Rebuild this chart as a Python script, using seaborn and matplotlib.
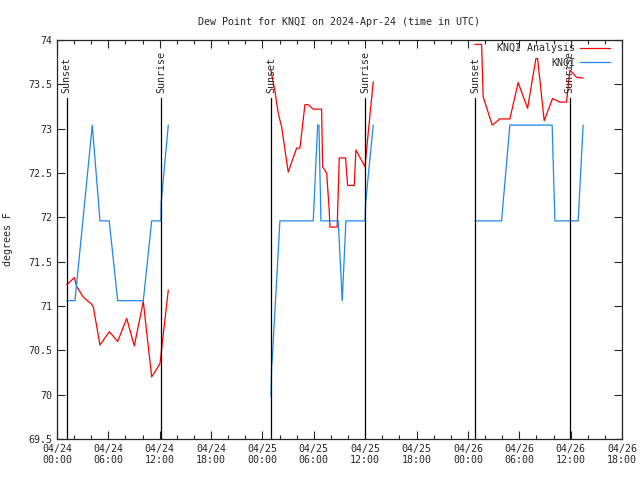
import pandas as pd
import matplotlib
matplotlib.use("Agg")
import matplotlib.pyplot as plt
import seaborn as sns
from matplotlib.ticker import FuncFormatter, MultipleLocator

# hours since 2024-04-24 00:00 UTC
analysis_seg = [0]*15 + [1]*23 + [2]*17
analysis_hr = [1.13, 2.02, 2.3, 3.07, 4.05, 4.24, 5.02, 6.11, 7.09, 8.14, 9.03, 10.08, 11.06, 12.03, 13.0,
               24.99, 25.46, 25.85, 26.24, 27.01, 27.99, 28.38, 28.96, 29.35, 29.93, 30.91, 31.03,
               31.5, 31.8, 31.88, 32.73, 32.97, 33.71, 33.95, 34.72, 34.92, 35.97, 36.94,
               48.8, 49.6, 49.78, 50.84, 51.74, 52.9, 53.87, 54.97, 55.94, 56.14, 56.91, 57.89,
               58.74, 59.52, 59.91, 60.69, 61.46]
analysis_val = [71.24, 71.32, 71.22, 71.10, 71.02, 70.99, 70.56, 70.71, 70.60, 70.86, 70.55, 71.05, 70.20, 70.35, 71.18,
                73.66, 73.42, 73.17, 73.02, 72.51, 72.78, 72.78, 73.27, 73.27, 73.22, 73.22, 72.57,
                72.50, 72.08, 71.89, 71.89, 72.67, 72.67, 72.36, 72.36, 72.76, 72.57, 73.53,
                73.95, 73.95, 73.36, 73.04, 73.11, 73.11, 73.52, 73.23, 73.79, 73.79, 73.09, 73.34,
                73.30, 73.30, 73.66, 73.58, 73.57]

obs_seg = [0]*13 + [1]*15 + [2]*7
obs_hr = [1.13, 2.1, 4.12, 5.02, 6.1, 7.09, 10.08, 11.06, 12.1, 12.14, 12.16, 12.2, 13.0,
          25.0, 25.08, 25.12, 26.04, 29.93, 30.45, 30.6, 30.83, 32.85, 33.32, 33.75, 35.97, 36.0, 36.05, 36.94,
          48.8, 51.93, 52.9, 57.84, 58.16, 60.88, 61.46]
obs_val = [71.06, 71.06, 73.04, 71.96, 71.96, 71.06, 71.06, 71.96, 71.96, 71.96, 72.17, 72.2, 73.04,
           69.98, 70.36, 70.36, 71.96, 71.96, 73.04, 73.04, 71.96, 71.96, 71.06, 71.96, 71.96, 72.0, 72.16, 73.04,
           71.96, 71.96, 73.04, 73.04, 71.96, 71.96, 73.04]

sunset_hr = [1.13, 25.0, 48.88]
sunrise_hr = [12.15, 35.97, 59.91]

tick_hr = list(range(0, 67, 6))
tick_labels = ["04/24\n00:00", "04/24\n06:00", "04/24\n12:00", "04/24\n18:00",
               "04/25\n00:00", "04/25\n06:00", "04/25\n12:00", "04/25\n18:00",
               "04/26\n00:00", "04/26\n06:00", "04/26\n12:00", "04/26\n18:00"]

RED = "#ff0000"
BLUE = "#1e88f0"
FS = 7.2

sns.set_style("ticks")
plt.rcParams["font.family"] = ["DejaVu Sans Mono"]
plt.rcParams["font.size"] = FS

analysis = pd.DataFrame({"hr": analysis_hr, "val": analysis_val, "seg": analysis_seg})
obs = pd.DataFrame({"hr": obs_hr, "val": obs_val, "seg": obs_seg})

fig = plt.figure(figsize=(6.4, 4.8), dpi=100)
ax = fig.add_axes([57/640, 41/480, 565/640, 399/480])

sns.lineplot(data=analysis, x="hr", y="val", units="seg", estimator=None,
             color=RED, linewidth=0.9, ax=ax)
sns.lineplot(data=obs, x="hr", y="val", units="seg", estimator=None,
             color=BLUE, linewidth=0.9, ax=ax)

for h in sunset_hr:
    ax.plot([h, h], [69.5, 73.35], color="black", linewidth=0.9)
    ax.text(h, 73.4, "Sunset", rotation=90, ha="center", va="bottom")
for h in sunrise_hr:
    ax.plot([h, h], [69.5, 73.35], color="black", linewidth=0.9)
    ax.text(h, 73.4, "Sunrise", rotation=90, ha="center", va="bottom")

ax.set_xlim(0, 66)
ax.set_ylim(69.5, 74)
ax.set_xticks(tick_hr)
ax.set_xticklabels(tick_labels)
ax.xaxis.set_minor_locator(MultipleLocator(2))
ax.yaxis.set_major_locator(MultipleLocator(0.5))
ax.yaxis.set_major_formatter(FuncFormatter(lambda v, p: "%g" % v))
ax.tick_params(which="both", direction="in", top=True, right=True, width=0.8)
ax.tick_params(which="major", length=6)
ax.tick_params(which="minor", length=3)
ax.set_xlabel("")
ax.set_ylabel("degrees F", labelpad=11)
for s in ax.spines.values():
    s.set_linewidth(0.9)

# legend, gnuplot style (text right-aligned, sample to the right)
ax.text(0.917, 0.979, "KNQI Analysis", transform=ax.transAxes, ha="right", va="center")
ax.plot([0.926, 0.979], [0.979, 0.979], transform=ax.transAxes, color=RED, linewidth=0.9)
ax.text(0.917, 0.944, "KNQI", transform=ax.transAxes, ha="right", va="center")
ax.plot([0.926, 0.979], [0.944, 0.944], transform=ax.transAxes, color=BLUE, linewidth=0.9)

ax.set_title("Dew Point for KNQI on 2024-Apr-24 (time in UTC)", fontsize=FS, pad=11)

fig.savefig("out.png", dpi=100)
